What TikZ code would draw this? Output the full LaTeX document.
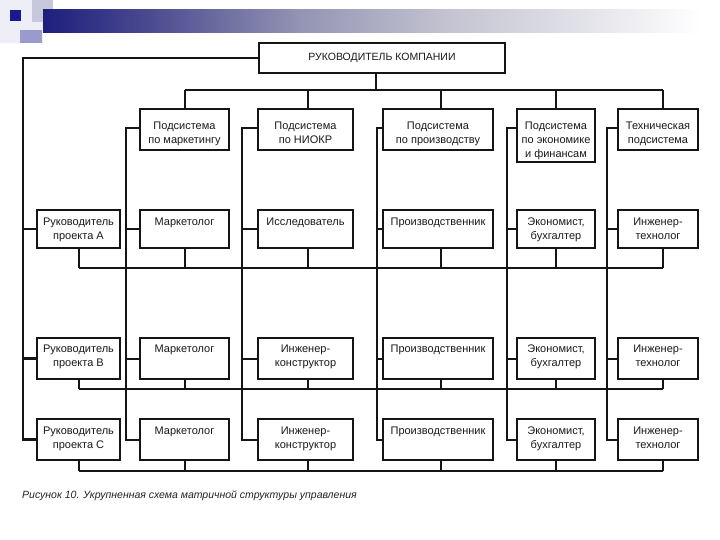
\documentclass[tikz,border=0pt]{standalone}
\usepackage{fontspec}
\setmainfont{Liberation Sans}
\usetikzlibrary{calc}
\definecolor{linec}{HTML}{151515}
\definecolor{txtc}{HTML}{1A1A1A}
\definecolor{captc}{HTML}{222222}
\definecolor{bnavy}{HTML}{1E1E7E}
\definecolor{bA}{HTML}{4A4A90}
\definecolor{bB}{HTML}{9494B4}
\definecolor{bC}{HTML}{C4C4D2}
\definecolor{bD}{HTML}{E6E6EC}
\definecolor{sqlight}{HTML}{EEEEF6}
\definecolor{sqgray}{HTML}{C8C8DC}
\definecolor{sqmid}{HTML}{9A9ACC}
\definecolor{sqdark}{HTML}{1A1A90}
\pgfdeclarehorizontalshading{topbar}{100bp}{color(0bp)=(bnavy); color(25bp)=(bnavy); color(33bp)=(bA); color(44.6bp)=(bB); color(56bp)=(bC); color(67.4bp)=(bD); color(75bp)=(white); color(100bp)=(white)}
\tikzset{
  box/.style={draw=linec, line width=1.5pt, fill=white, inner sep=0pt},
  lbl/.style={font=\fontsize{11}{14}\selectfont, align=center, anchor=north, inner sep=0pt, text=txtc},
  bus/.style={draw=linec, line width=1.3pt},
  vline/.style={draw=linec, line width=2pt},
  oline/.style={draw=linec, line width=2.4pt}
}
\begin{document}
\begin{tikzpicture}[x=1pt,y=-1pt]
\useasboundingbox (0,0) rectangle (720,540);
% slide decoration
\fill[sqlight] (0,0) rectangle (43,43);
\fill[sqgray] (32,0) rectangle (53,22);
\fill[sqmid] (20,30) rectangle (42,43);
\shade[shading=topbar] (43,10) rectangle (700,33);
\fill[sqdark] (10,10) rectangle (21,21);

% top box
\node[box, minimum width=246, minimum height=30, font=\fontsize{10.5}{12}\selectfont, text=txtc] (top) at (382,58) {РУКОВОДИТЕЛЬ КОМПАНИИ};

% subsystem boxes
\node[box, minimum width=89, minimum height=41] (S1) at (184.5,129.5) {};
\node[box, minimum width=95, minimum height=41] (S2) at (305.5,129.5) {};
\node[box, minimum width=110, minimum height=41] (S3) at (438,129.5) {};
\node[box, minimum width=78, minimum height=53] (S4) at (556,135.5) {};
\node[box, minimum width=80, minimum height=41] (S5) at (658,129.5) {};
\node[lbl] (S1t) at ([yshift=-13pt]S1.north) {Подсистема\\по маркетингу};
\node[lbl] (S2t) at ([yshift=-13pt]S2.north) {Подсистема\\по НИОКР};
\node[lbl] (S3t) at ([yshift=-13pt]S3.north) {Подсистема\\по производству};
\node[lbl] (S4t) at ([yshift=-13pt]S4.north) {Подсистема\\по экономике\\и финансам};
\node[lbl] (S5t) at ([yshift=-13pt]S5.north) {Техническая\\подсистема};

% row boxes
\foreach \r/\cy/\h/\sh in {A/229/38/8, B/358.5/41/7, C/439.5/41/8} {
  \node[box, minimum width=83, minimum height=\h] (\r0) at (78.5,\cy) {};
  \node[box, minimum width=89, minimum height=\h] (\r1) at (184.5,\cy) {};
  \node[box, minimum width=95, minimum height=\h] (\r2) at (305.5,\cy) {};
  \node[box, minimum width=110, minimum height=\h] (\r3) at (438,\cy) {};
  \node[box, minimum width=78, minimum height=\h] (\r4) at (556,\cy) {};
  \node[box, minimum width=80, minimum height=\h] (\r5) at (658,\cy) {};
  \node[lbl] (\r1t) at ([yshift=-\sh pt]\r1.north) {Маркетолог};
  \node[lbl] (\r3t) at ([yshift=-\sh pt]\r3.north) {Производственник};
  \node[lbl] (\r4t) at ([yshift=-\sh pt]\r4.north) {Экономист,\\бухгалтер};
  \node[lbl] (\r5t) at ([yshift=-\sh pt]\r5.north) {Инженер-\\технолог};
}
\node[lbl] (A0t) at ([yshift=-8pt]A0.north) {Руководитель\\проекта А};
\node[lbl] (B0t) at ([yshift=-7pt]B0.north) {Руководитель\\проекта В};
\node[lbl] (C0t) at ([yshift=-8pt]C0.north) {Руководитель\\проекта С};
\node[lbl] (A2t) at ([yshift=-8pt]A2.north) {Исследователь};
\node[lbl] (B2t) at ([yshift=-7pt]B2.north) {Инженер-\\конструктор};
\node[lbl] (C2t) at ([yshift=-8pt]C2.north) {Инженер-\\конструктор};

% coordinates
\coordinate (V0) at (23,0);
\coordinate (V1) at (126,0);
\coordinate (V2) at (242,0);
\coordinate (V3) at (377,0);
\coordinate (V4) at (507,0);
\coordinate (V5) at (607,0);
\coordinate (HS) at (0,128);
\coordinate (d0) at (79,90);
\coordinate (d1) at (185,90);
\coordinate (d2) at (308,90);
\coordinate (d3) at (441,90);
\coordinate (d4) at (556,90);
\coordinate (d5) at (663,90);
\coordinate (RA) at (0,268);
\coordinate (RB) at (0,389);
\coordinate (RC) at (0,471);
\coordinate (tdrop) at (376,90);

% top bus
\draw[bus] (top.south -| tdrop) -- (tdrop);
\draw[bus] (d1) -- (d5);
\foreach \k in {1,...,5} {
  \draw[bus] (d\k) -- (d\k |- S\k.north);
}

% outer left line
\draw[oline] (top.west) -- (top.west -| V0) -- (C0.west -| V0) -- (C0.west);
\draw[oline] (A0.west -| V0) -- (A0.west);
\draw[oline] (B0.west -| V0) -- (B0.west);

% verticals from subsystems
\foreach \k in {1,...,5} {
  \draw[vline] (HS -| S\k.west) -- (HS -| V\k) -- (C\k.west -| V\k) -- (C\k.west);
  \draw[vline] (A\k.west -| V\k) -- (A\k.west);
  \draw[vline] (B\k.west -| V\k) -- (B\k.west);
}

% row buses
\foreach \r/\R in {A/RA, B/RB, C/RC} {
  \draw[bus] (d0 |- \R) -- (d5 |- \R);
  \foreach \k in {0,...,5} {
    \draw[bus] (d\k |- \r\k.south) -- (d\k |- \R);
  }
}

% caption
\node[font=\itshape\fontsize{10.5}{13}\selectfont, anchor=west, inner sep=0pt, text=captc] (cap) at (22,496) {Рисунок 10. Укрупненная схема матричной структуры управления};
\end{tikzpicture}
\end{document}
